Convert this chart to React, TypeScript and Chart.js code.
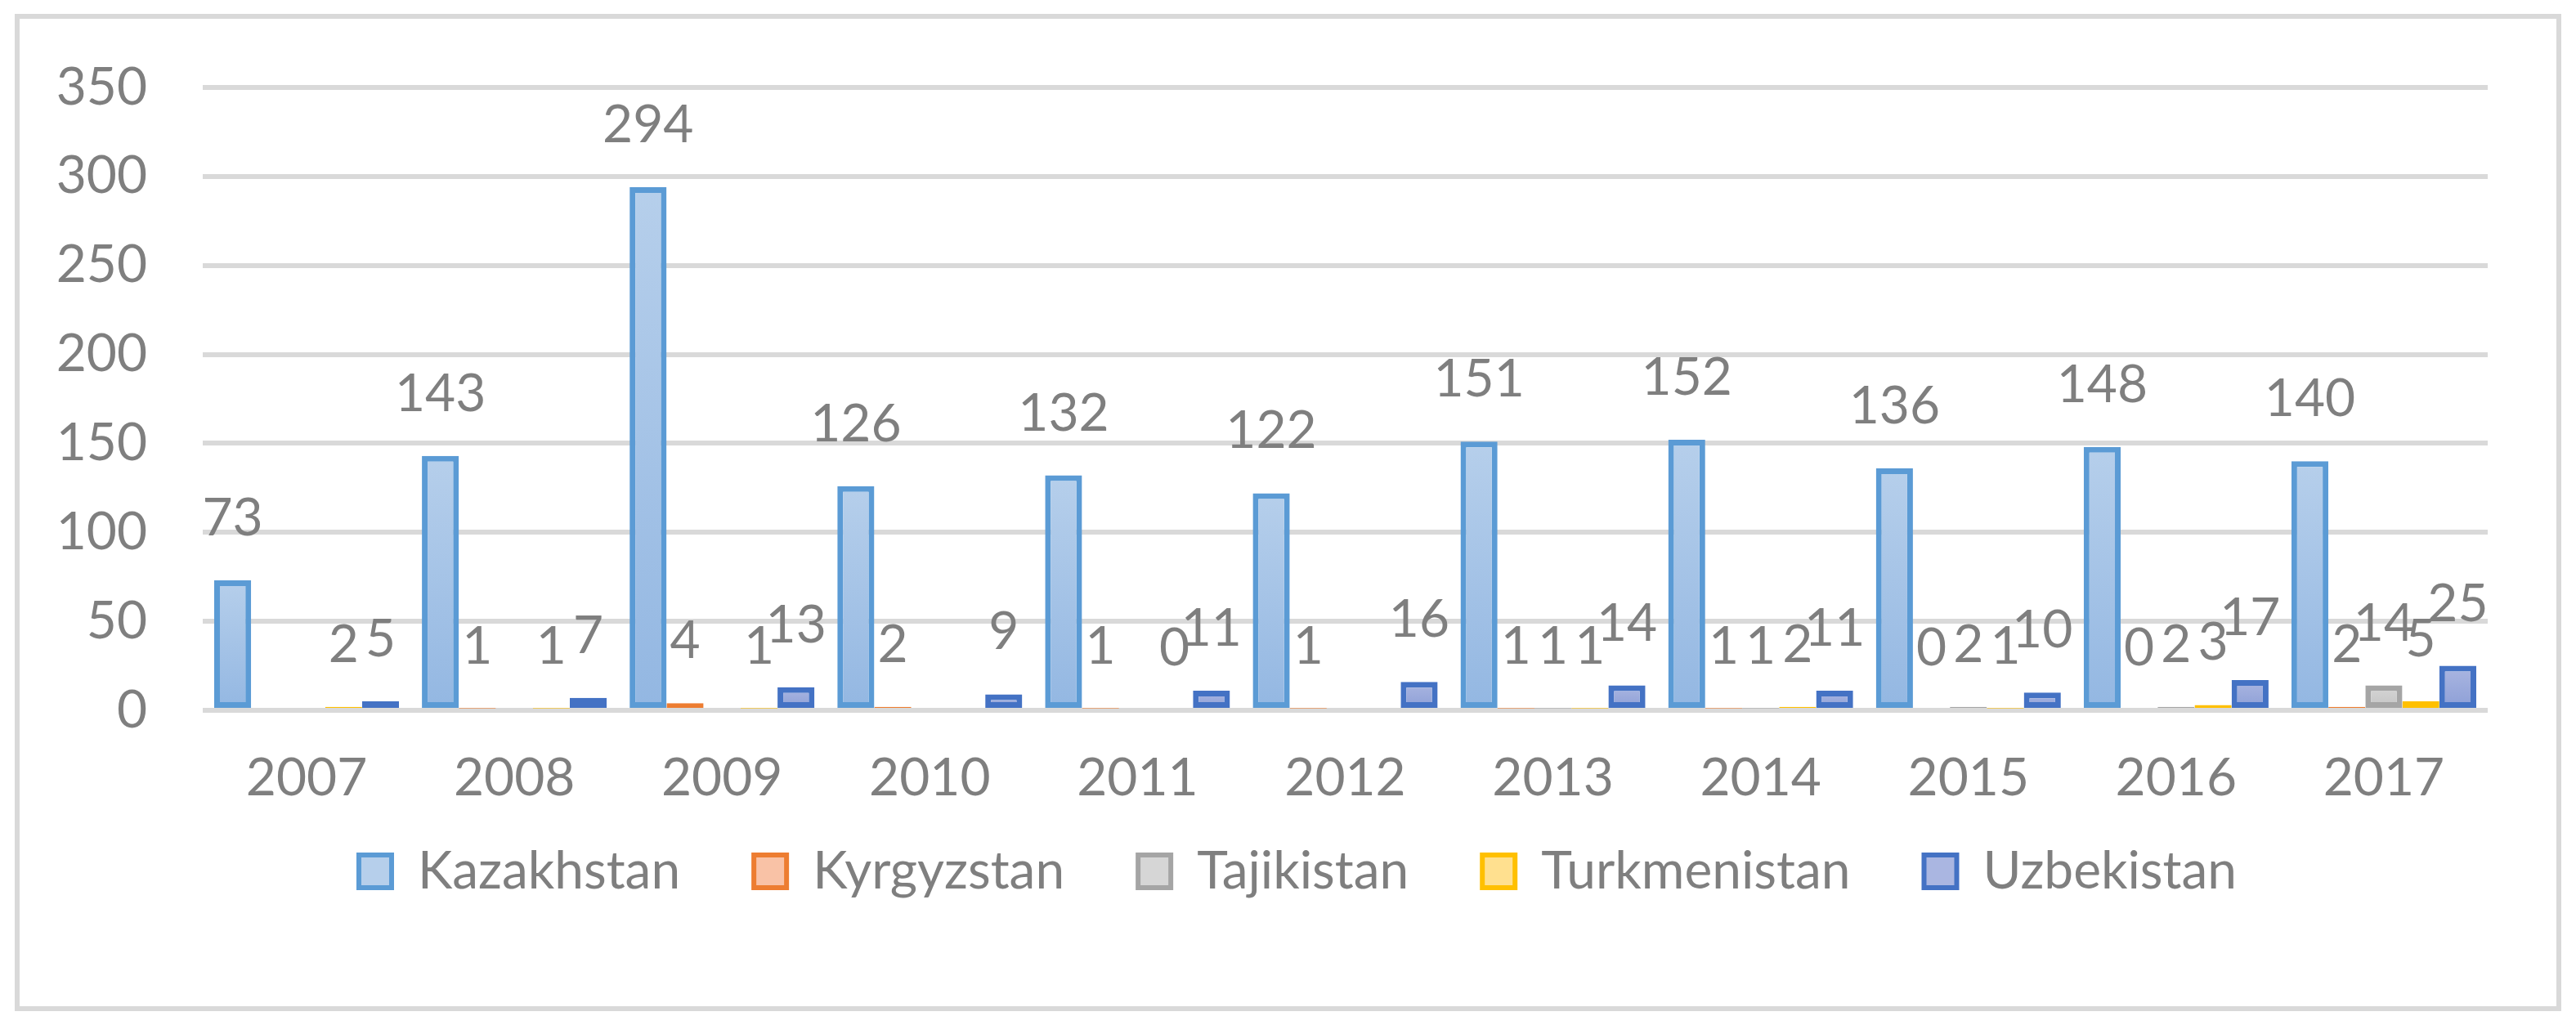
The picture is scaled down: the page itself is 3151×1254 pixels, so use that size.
import React, { useEffect, useRef } from 'react';
import { Chart, registerables } from 'chart.js';

Chart.register(...registerables);

const years = ['2007', '2008', '2009', '2010', '2011', '2012', '2013', '2014', '2015', '2016', '2017'];
const seriesNames = ['Kazakhstan', 'Kyrgyzstan', 'Tajikistan', 'Turkmenistan', 'Uzbekistan'];
const kazakhstan = [73, 143, 294, 126, 132, 122, 151, 152, 136, 148, 140];
const kyrgyzstan = [null, 1, 4, 2, 1, 1, 1, 1, 0, 0, 2];
const tajikistan = [null, null, null, null, null, null, 1, 1, 2, 2, 14];
const turkmenistan = [2, 1, 1, null, 0, null, 1, 2, 1, 3, 5];
const uzbekistan = [5, 7, 13, 9, 11, 16, 14, 11, 10, 17, 25];
const yMin = 0;
const yMax = 350;
const yStep = 50;

const borderColors = ['#5b9bd5', '#ed7d31', '#a5a5a5', '#ffc000', '#4472c4'];
const fillTop = ['#b6cfeb', '#f9c2a6', '#d6d6d6', '#ffe08f', '#aab6e1'];
const fillBottom = ['#93b7e2', '#f4a27e', '#c3c3c3', '#ffd35c', '#8c9ed6'];

const FONT = 'Lato';
const TEXT_COLOR = '#7f7f7f';
const FONT_SIZE = 64;

const labelPlugin = {
  id: 'valueLabels',
  afterDatasetsDraw(chart: any) {
    const ctx = chart.ctx;
    ctx.save();
    ctx.font = `${FONT_SIZE}px ${FONT}`;
    ctx.fillStyle = TEXT_COLOR;
    ctx.textAlign = 'center';
    ctx.textBaseline = 'alphabetic';
    chart.data.datasets.forEach((ds: any, di: number) => {
      const meta = chart.getDatasetMeta(di);
      meta.data.forEach((el: any, i: number) => {
        const v = ds.data[i];
        if (v === null || v === undefined) return;
        ctx.fillText(String(v), el.x, el.y - 55);
      });
    });
    ctx.restore();
  },
};

const framePlugin = {
  id: 'frame',
  beforeDraw(chart: any) {
    const ctx = chart.ctx;
    ctx.save();
    ctx.fillStyle = '#ffffff';
    ctx.fillRect(0, 0, chart.width, chart.height);
    ctx.strokeStyle = '#d9d9d9';
    ctx.lineWidth = 6;
    ctx.strokeRect(21, 20, 3109, 1214);
    ctx.restore();
  },
};

export default function App() {
  const canvasRef = useRef<HTMLCanvasElement | null>(null);

  useEffect(() => {
    document.body.style.margin = '0';
    const canvas = canvasRef.current;
    if (!canvas) return;
    const allData = [kazakhstan, kyrgyzstan, tajikistan, turkmenistan, uzbekistan];

    const makeBg = (i: number) => (c: any) => {
      const chart = c.chart;
      const ys = chart.scales && chart.scales.y;
      if (!chart.chartArea || !ys || c.raw === null || c.raw === undefined) return fillBottom[i];
      const top = ys.getPixelForValue(c.raw);
      const bottom = ys.getPixelForValue(0);
      if (bottom - top < 2) return borderColors[i];
      const g = chart.ctx.createLinearGradient(0, top, 0, bottom);
      g.addColorStop(0, fillTop[i]);
      g.addColorStop(1, fillBottom[i]);
      return g;
    };

    const legendPadding = 90;
    const padBottom = 146;
    const legendHeight = FONT_SIZE + legendPadding + 10;
    const plotBottom = 869;

    const chart = new Chart(canvas, {
      type: 'bar',
      data: {
        labels: years,
        datasets: allData.map((d, i) => ({
          label: seriesNames[i],
          data: d,
          yAxisID: 'y',
          backgroundColor: makeBg(i),
          borderColor: borderColors[i],
          borderWidth: 7,
          borderSkipped: false,
          categoryPercentage: 0.89,
          barPercentage: 1.0,
        })),
      },
      options: {
        animation: false,
        responsive: true,
        maintainAspectRatio: false,
        layout: { padding: { top: 107, left: 24, right: 0, bottom: padBottom } },
        plugins: {
          tooltip: { enabled: false },
          legend: {
            position: 'bottom',
            labels: {
              boxWidth: 40,
              boxHeight: 40,
              padding: legendPadding,
              color: TEXT_COLOR,
              font: { family: FONT, size: FONT_SIZE },
              generateLabels: (ch: any) =>
                ch.data.datasets.map((ds: any, i: number) => ({
                  text: ds.label,
                  fillStyle: fillTop[i],
                  strokeStyle: borderColors[i],
                  lineWidth: 6,
                  hidden: false,
                  datasetIndex: i,
                  fontColor: TEXT_COLOR,
                })),
            },
          },
        },
        scales: {
          x: {
            grid: { display: false, drawTicks: false },
            border: { display: false },
            ticks: {
              color: TEXT_COLOR,
              font: { family: FONT, size: FONT_SIZE },
              padding: 45,
              maxRotation: 0,
              autoSkip: false,
            },
            afterFit: (s: any) => {
              s.height = 1254 - padBottom - legendHeight - plotBottom;
              s._computeLabelArea = () => undefined;
            },
          },
          y: {
            position: 'left',
            min: yMin,
            max: yMax,
            grid: { color: '#d9d9d9', lineWidth: 6, drawTicks: false },
            border: { display: false },
            ticks: {
              stepSize: yStep,
              color: TEXT_COLOR,
              font: { family: FONT, size: FONT_SIZE },
              padding: 68,
            },
            afterFit: (s: any) => {
              s.width = 248 - 24;
            },
          },
          y2: {
            type: 'linear',
            position: 'right',
            display: true,
            grid: { display: false, drawTicks: false },
            border: { display: false },
            ticks: { display: false },
            afterFit: (s: any) => {
              s.width = 3151 - 3043;
            },
          },
        },
      },
      plugins: [framePlugin, labelPlugin],
    } as any);

    return () => {
      chart.destroy();
    };
  }, []);

  return (
    <div style={{ position: 'relative', width: '3151px', height: '1254px' }}>
      <canvas ref={canvasRef} />
    </div>
  );
}
